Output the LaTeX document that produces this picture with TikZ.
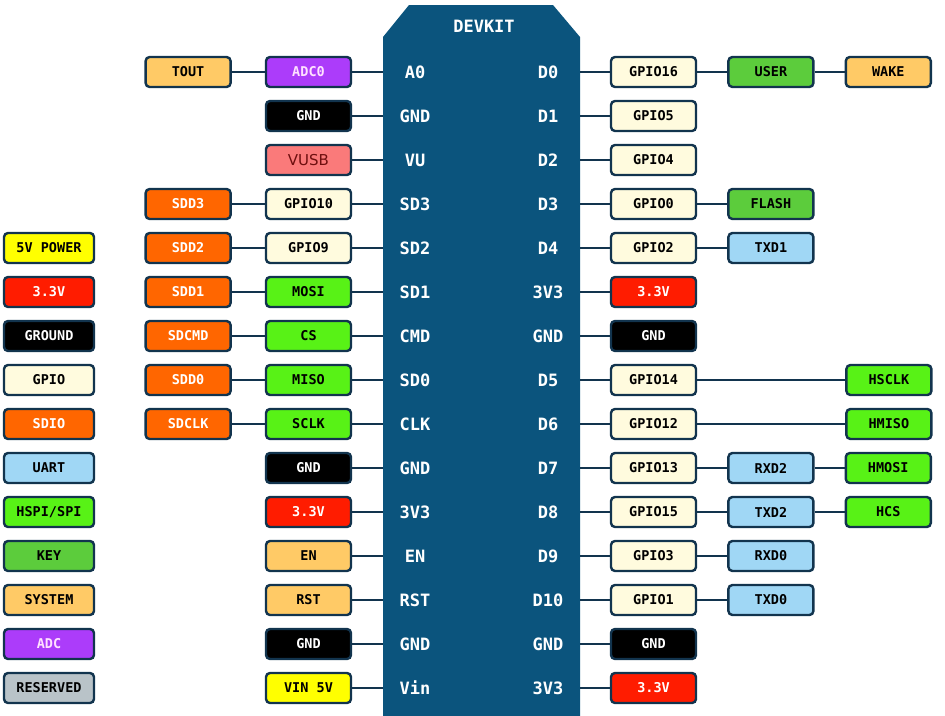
\documentclass[tikz,border=0pt]{standalone}
\usepackage{fontspec}
\setmonofont{DejaVu Sans Mono}
\newfontfamily\usbfont{DejaVu Sans}
\usetikzlibrary{positioning}

\definecolor{board}{RGB}{11,84,125}
\definecolor{edge}{RGB}{18,52,78}
\definecolor{c5v}{RGB}{255,255,0}
\definecolor{c33}{RGB}{255,28,0}
\definecolor{cgpio}{RGB}{255,251,222}
\definecolor{csdio}{RGB}{255,102,0}
\definecolor{cuart}{RGB}{160,215,245}
\definecolor{cspi}{RGB}{88,242,22}
\definecolor{ckey}{RGB}{92,204,60}
\definecolor{csys}{RGB}{255,202,102}
\definecolor{cadc}{RGB}{172,60,250}
\definecolor{cres}{RGB}{185,195,200}
\definecolor{cusb}{RGB}{250,122,122}

\begin{document}
\begin{tikzpicture}[
	x=1pt, y=-1pt,
	font=\ttfamily\bfseries\fontsize{13.5}{14}\selectfont,
	pin/.style={rectangle, rounded corners=4pt, draw=edge, line width=2.4pt, minimum width=85pt, minimum height=30pt, inner sep=1pt},
	legend/.style={pin, minimum width=90pt},
	v5/.style={pin, fill=c5v},
	v33/.style={pin, fill=c33, text=white},
	gnd/.style={pin, fill=black, text=white},
	gpio/.style={pin, fill=cgpio},
	sdio/.style={pin, fill=csdio, text=white},
	uart/.style={pin, fill=cuart},
	spi/.style={pin, fill=cspi},
	key/.style={pin, fill=ckey},
	sys/.style={pin, fill=csys},
	adc/.style={pin, fill=cadc, text={rgb,255:red,255;green,225;blue,255}},
	rsv/.style={pin, fill=cres},
	usb/.style={pin, fill=cusb, text={rgb,255:red,110;green,15;blue,15}, font=\usbfont\fontsize{15}{15}\selectfont},
	lbl/.style={text=white, font=\ttfamily\bfseries\fontsize{17}{17}\selectfont},
	wire/.style={edge, line width=2.4pt},
]
\useasboundingbox (0,0) rectangle (945,715);

% board
\node[rectangle, minimum width=197pt, minimum height=740pt, inner sep=0pt] (board) at (481.5,375) {};
\fill[board] (383,745) -- (383,37) -- (409,5) -- (553,5) -- (580,37) -- (580,745) -- cycle;
\node[lbl] (title) at (484,26) {DEVKIT};

% pin names on the board
\node[lbl] (a0) at (415,72) {A0};     \node[lbl] (d0) at (548,72) {D0};
\node[lbl] (g1) at (415,116) {GND};   \node[lbl] (d1) at (548,116) {D1};
\node[lbl] (vu) at (415,160) {VU};    \node[lbl] (d2) at (548,160) {D2};
\node[lbl] (sd3) at (415,204) {SD3};  \node[lbl] (d3) at (548,204) {D3};
\node[lbl] (sd2) at (415,248) {SD2};  \node[lbl] (d4) at (548,248) {D4};
\node[lbl] (sd1) at (415,292) {SD1};  \node[lbl] (p3a) at (548,292) {3V3};
\node[lbl] (cmd) at (415,336) {CMD};  \node[lbl] (g2) at (548,336) {GND};
\node[lbl] (sd0) at (415,380) {SD0};  \node[lbl] (d5) at (548,380) {D5};
\node[lbl] (clk) at (415,424) {CLK};  \node[lbl] (d6) at (548,424) {D6};
\node[lbl] (g3) at (415,468) {GND};   \node[lbl] (d7) at (548,468) {D7};
\node[lbl] (p3b) at (415,512) {3V3};  \node[lbl] (d8) at (548,512) {D8};
\node[lbl] (enp) at (415,556) {EN};   \node[lbl] (d9) at (548,556) {D9};
\node[lbl] (rstp) at (415,600) {RST}; \node[lbl] (d10) at (548,600) {D10};
\node[lbl] (g4) at (415,644) {GND};   \node[lbl] (g5) at (548,644) {GND};
\node[lbl] (vinp) at (415,688) {Vin}; \node[lbl] (p3c) at (548,688) {3V3};

% left side
\node[adc] (adc0) at (308.5,72) {ADC0};
\node[sys] (tout) [left=33pt of adc0] {TOUT};
\node[gnd] (gndA) at (308.5,116) {GND};
\node[usb] (vusb) at (308.5,160) {VUSB};
\node[gpio] (gpio10) at (308.5,204) {GPIO10};
\node[sdio] (sdd3) [left=33pt of gpio10] {SDD3};
\node[gpio] (gpio9) at (308.5,248) {GPIO9};
\node[sdio] (sdd2) [left=33pt of gpio9] {SDD2};
\node[spi] (mosi) at (308.5,292) {MOSI};
\node[sdio] (sdd1) [left=33pt of mosi] {SDD1};
\node[spi] (cs) at (308.5,336) {CS};
\node[sdio] (sdcmd) [left=33pt of cs] {SDCMD};
\node[spi] (miso) at (308.5,380) {MISO};
\node[sdio] (sdd0) [left=33pt of miso] {SDD0};
\node[spi] (sclk) at (308.5,424) {SCLK};
\node[sdio] (sdclk) [left=33pt of sclk] {SDCLK};
\node[gnd] (gndB) at (308.5,468) {GND};
\node[v33] (v33A) at (308.5,512) {3.3V};
\node[sys] (en) at (308.5,556) {EN};
\node[sys] (rst) at (308.5,600) {RST};
\node[gnd] (gndC) at (308.5,644) {GND};
\node[v5] (vin) at (308.5,688) {VIN 5V};

% right side
\node[gpio] (gpio16) at (653.5,72) {GPIO16};
\node[key] (user) [right=30pt of gpio16] {USER};
\node[sys] (wake) [right=30pt of user] {WAKE};
\node[gpio] (gpio5) at (653.5,116) {GPIO5};
\node[gpio] (gpio4) at (653.5,160) {GPIO4};
\node[gpio] (gpio0) at (653.5,204) {GPIO0};
\node[key] (flash) [right=30pt of gpio0] {FLASH};
\node[gpio] (gpio2) at (653.5,248) {GPIO2};
\node[uart] (txd1) [right=30pt of gpio2] {TXD1};
\node[v33] (v33B) at (653.5,292) {3.3V};
\node[gnd] (gndD) at (653.5,336) {GND};
\node[gpio] (gpio14) at (653.5,380) {GPIO14};
\node[spi] (hsclk) [right=148pt of gpio14] {HSCLK};
\node[gpio] (gpio12) at (653.5,424) {GPIO12};
\node[spi] (hmiso) [right=148pt of gpio12] {HMISO};
\node[gpio] (gpio13) at (653.5,468) {GPIO13};
\node[uart] (rxd2) [right=30pt of gpio13] {RXD2};
\node[spi] (hmosi) [right=30pt of rxd2] {HMOSI};
\node[gpio] (gpio15) at (653.5,512) {GPIO15};
\node[uart] (txd2) [right=30pt of gpio15] {TXD2};
\node[spi] (hcs) [right=30pt of txd2] {HCS};
\node[gpio] (gpio3) at (653.5,556) {GPIO3};
\node[uart] (rxd0) [right=30pt of gpio3] {RXD0};
\node[gpio] (gpio1) at (653.5,600) {GPIO1};
\node[uart] (txd0) [right=30pt of gpio1] {TXD0};
\node[gnd] (gndE) at (653.5,644) {GND};
\node[v33] (v33C) at (653.5,688) {3.3V};

% legend
\node[v5, legend] (lg5v) at (49,248) {5V POWER};
\node[v33, legend] (lg33) at (49,292) {3.3V};
\node[gnd, legend] (lggnd) at (49,336) {GROUND};
\node[gpio, legend] (lggpio) at (49,380) {GPIO};
\node[sdio, legend] (lgsdio) at (49,424) {SDIO};
\node[uart, legend] (lguart) at (49,468) {UART};
\node[spi, legend] (lgspi) at (49,512) {HSPI/SPI};
\node[key, legend] (lgkey) at (49,556) {KEY};
\node[sys, legend] (lgsys) at (49,600) {SYSTEM};
\node[adc, legend] (lgadc) at (49,644) {ADC};
\node[rsv, legend] (lgres) at (49,688) {RESERVED};

% wires to the board
\draw[wire] (adc0) -- (adc0 -| board.west); \draw[wire] (gndA) -- (gndA -| board.west);
\draw[wire] (vusb) -- (vusb -| board.west); \draw[wire] (gpio10) -- (gpio10 -| board.west);
\draw[wire] (gpio9) -- (gpio9 -| board.west); \draw[wire] (mosi) -- (mosi -| board.west);
\draw[wire] (cs) -- (cs -| board.west); \draw[wire] (miso) -- (miso -| board.west);
\draw[wire] (sclk) -- (sclk -| board.west); \draw[wire] (gndB) -- (gndB -| board.west);
\draw[wire] (v33A) -- (v33A -| board.west); \draw[wire] (en) -- (en -| board.west);
\draw[wire] (rst) -- (rst -| board.west); \draw[wire] (gndC) -- (gndC -| board.west);
\draw[wire] (vin) -- (vin -| board.west);
\draw[wire] (gpio16) -- (gpio16 -| board.east); \draw[wire] (gpio5) -- (gpio5 -| board.east);
\draw[wire] (gpio4) -- (gpio4 -| board.east); \draw[wire] (gpio0) -- (gpio0 -| board.east);
\draw[wire] (gpio2) -- (gpio2 -| board.east); \draw[wire] (v33B) -- (v33B -| board.east);
\draw[wire] (gndD) -- (gndD -| board.east); \draw[wire] (gpio14) -- (gpio14 -| board.east);
\draw[wire] (gpio12) -- (gpio12 -| board.east); \draw[wire] (gpio13) -- (gpio13 -| board.east);
\draw[wire] (gpio15) -- (gpio15 -| board.east); \draw[wire] (gpio3) -- (gpio3 -| board.east);
\draw[wire] (gpio1) -- (gpio1 -| board.east); \draw[wire] (gndE) -- (gndE -| board.east);
\draw[wire] (v33C) -- (v33C -| board.east);
% wires between boxes
\draw[wire] (tout) -- (adc0); \draw[wire] (sdd3) -- (gpio10); \draw[wire] (sdd2) -- (gpio9);
\draw[wire] (sdd1) -- (mosi); \draw[wire] (sdcmd) -- (cs); \draw[wire] (sdd0) -- (miso);
\draw[wire] (sdclk) -- (sclk);
\draw[wire] (gpio16) -- (user); \draw[wire] (user) -- (wake); \draw[wire] (gpio0) -- (flash);
\draw[wire] (gpio2) -- (txd1); \draw[wire] (gpio14) -- (hsclk); \draw[wire] (gpio12) -- (hmiso);
\draw[wire] (gpio13) -- (rxd2); \draw[wire] (rxd2) -- (hmosi); \draw[wire] (gpio15) -- (txd2);
\draw[wire] (txd2) -- (hcs); \draw[wire] (gpio3) -- (rxd0); \draw[wire] (gpio1) -- (txd0);
\end{tikzpicture}
\end{document}
